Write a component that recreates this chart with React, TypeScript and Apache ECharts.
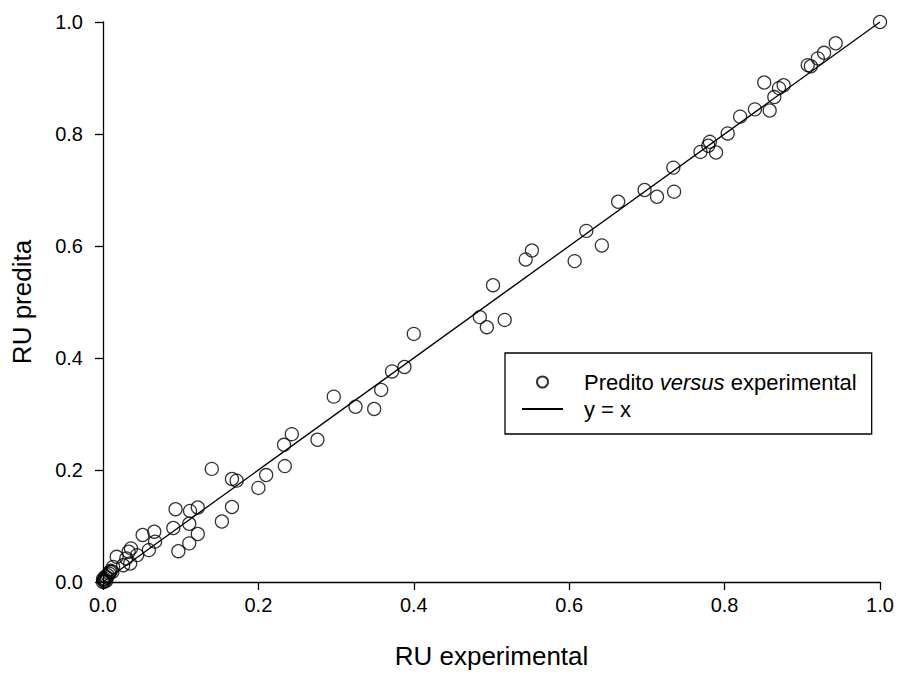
import React, { useEffect, useRef } from "react";
import * as echarts from "echarts";

const xExperimental: number[] = [
  0.0, 0.001, 0.002, 0.003, 0.004, 0.006, 0.008, 0.01, 0.005, 0.012, 0.0, 0.002,
  0.009, 0.013, 0.0176, 0.026, 0.03, 0.035, 0.033, 0.036, 0.044, 0.051, 0.059,
  0.066, 0.067, 0.0905, 0.0934, 0.097, 0.111, 0.111, 0.112, 0.122, 0.122,
  0.14, 0.153, 0.166, 0.166, 0.172, 0.2, 0.21, 0.233, 0.234, 0.243, 0.276,
  0.297, 0.325, 0.349, 0.358, 0.372, 0.388, 0.4, 0.485, 0.494, 0.502, 0.517,
  0.544, 0.552, 0.607, 0.622, 0.642, 0.663, 0.697, 0.713, 0.734, 0.735,
  0.769, 0.779, 0.781, 0.789, 0.804, 0.82, 0.839, 0.851, 0.858, 0.864, 0.87,
  0.876, 0.907, 0.911, 0.92, 0.928, 0.943, 1.0,
];

const yPredicted: number[] = [
  0.0, 0.003, 0.006, 0.01, 0.002, 0.012, 0.015, 0.02, 0.008, 0.018, 0.005, 0.001,
  0.018, 0.027, 0.045, 0.03, 0.042, 0.033, 0.054, 0.06, 0.048, 0.084, 0.057,
  0.0898, 0.072, 0.0964, 0.13, 0.055, 0.104, 0.069, 0.127, 0.133, 0.0857,
  0.202, 0.108, 0.184, 0.134, 0.181, 0.168, 0.191, 0.245, 0.207, 0.264, 0.254,
  0.331, 0.313, 0.309, 0.343, 0.376, 0.384, 0.443, 0.473, 0.455, 0.53, 0.468,
  0.576, 0.592, 0.573, 0.627, 0.601, 0.679, 0.7, 0.688, 0.74, 0.697,
  0.768, 0.779, 0.786, 0.767, 0.801, 0.831, 0.844, 0.892, 0.842, 0.866, 0.882,
  0.887, 0.923, 0.921, 0.935, 0.945, 0.962, 1.0,
];

const identityX: number[] = [0, 1];
const identityY: number[] = [0, 1];

const scatterName = "Predito versus experimental";
const lineName = "y = x";

const FONT = "'Liberation Sans', Arial, sans-serif";

export default function App() {
  const ref = useRef<HTMLDivElement>(null);

  useEffect(() => {
    if (!ref.current) return;
    const chart = echarts.init(ref.current, undefined, { renderer: "svg" });
    const scatterData = xExperimental.map((x, i) => [x, yPredicted[i]]);
    const lineData = identityX.map((x, i) => [x, identityY[i]]);

    const axisCommon = {
      type: "value" as const,
      min: 0,
      max: 1,
      interval: 0.2,
      nameLocation: "middle" as const,
      nameTextStyle: { fontFamily: FONT, fontSize: 26, color: "#000" },
      axisLine: { show: true, lineStyle: { color: "#000", width: 1.3 } },
      axisTick: { show: true, inside: false, length: 8, lineStyle: { color: "#000", width: 1.3 } },
      axisLabel: {
        fontFamily: FONT,
        fontSize: 20,
        color: "#000",
        formatter: (v: number) => v.toFixed(1),
      },
      splitLine: { show: false },
    };

    chart.setOption({
      animation: false,
      backgroundColor: "#fff",
      grid: { left: 103, right: 19, top: 22, bottom: 92, containLabel: false },
      xAxis: {
        ...axisCommon,
        name: "RU experimental",
        nameGap: 61,
        axisLabel: { ...axisCommon.axisLabel, margin: 13 },
      },
      yAxis: {
        ...axisCommon,
        name: "RU predita",
        nameGap: 68,
        axisLabel: { ...axisCommon.axisLabel, margin: 20 },
      },
      legend: {
        orient: "vertical",
        left: 505,
        top: 353,
        padding: [18, 15, 14, 16],
        itemGap: 5,
        itemWidth: 41,
        itemHeight: 11,
        borderColor: "#000",
        borderWidth: 1.3,
        backgroundColor: "#fff",
        data: [
          { name: scatterName, icon: "circle" },
          { name: lineName, itemStyle: { opacity: 0 } },
        ],
        formatter: (name: string) =>
          name === scatterName
            ? "{n|Predito }{i|versus}{n| experimental}"
            : "{n|y = x}",
        textStyle: {
          fontFamily: FONT,
          fontSize: 22,
          color: "#000",
          padding: [0, 0, 0, 16],
          rich: {
            n: { fontFamily: FONT, fontSize: 22, color: "#000" },
            i: { fontFamily: FONT, fontSize: 22, color: "#000", fontStyle: "italic" },
          },
        },
      },
      series: [
        {
          name: lineName,
          type: "line",
          data: lineData,
          symbol: "none",
          lineStyle: { color: "#000", width: 1.3 },
          itemStyle: { color: "#000" },
          z: 2,
        },
        {
          name: scatterName,
          type: "scatter",
          data: scatterData,
          symbol: "circle",
          symbolSize: 13,
          itemStyle: { color: "rgba(0,0,0,0)", borderColor: "#000", borderWidth: 1.3 },
          z: 3,
        },
      ],
    });
    return () => chart.dispose();
  }, []);

  return <div ref={ref} style={{ width: 899, height: 674, position: "absolute", left: 0, top: 0 }} />;
}
